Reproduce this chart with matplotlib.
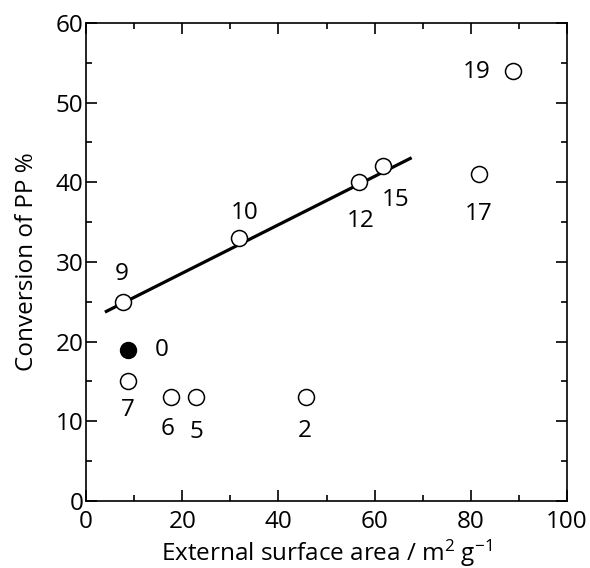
import numpy as np
import matplotlib
matplotlib.use("Agg")
import matplotlib.pyplot as plt
from matplotlib.ticker import MultipleLocator

plt.rcParams['font.family'] = ['Open Sans', 'DejaVu Sans']
plt.rcParams['mathtext.fontset'] = 'custom'
plt.rcParams['mathtext.rm'] = 'Open Sans'
plt.rcParams['mathtext.it'] = 'Open Sans'

# open circles: sample labels, surface area, conversion
labels = ['9', '7', '6', '5', '2', '10', '12', '15', '17', '19']
area = [7.7, 8.7, 17.7, 22.9, 45.7, 31.8, 56.8, 61.7, 81.7, 88.8]
conv = [25, 15, 13, 13, 13, 33, 40, 42, 41, 54]
# label positions
lab_x = [7.3, 8.7, 17.0, 22.9, 45.5, 33.0, 57.2, 64.4, 81.6, 81.3]
lab_y = [28.5, 11.4, 9.0, 8.7, 8.8, 36.1, 35.2, 37.8, 36.0, 53.8]

# filled point (sample 0)
ref_x = [8.7]
ref_y = [19]
ref_lab = (15.8, 19)

# trend line
fit_x = [4.2, 67.4]
fit_y = [23.8, 43.0]

fs = 17.5

fig = plt.figure(figsize=(5.9, 5.68), dpi=100)
ax = fig.add_axes([0.146, 0.118, 0.815, 0.8415])

ax.plot(fit_x, fit_y, color='black', lw=2.3, zorder=2)
ax.plot(area, conv, 'o', ms=11.5, mfc='white', mec='black', mew=1.1, zorder=3)
ax.plot(ref_x, ref_y, 'o', ms=11.5, mfc='black', mec='black', zorder=3)

for t, x, y in zip(labels, lab_x, lab_y):
    ax.text(x, y, t, ha='center', va='center', fontsize=fs)
ax.text(ref_lab[0], ref_lab[1], '0', ha='center', va='center', fontsize=fs)

ax.set_xlim(0, 100)
ax.set_ylim(0, 60)
ax.xaxis.set_major_locator(MultipleLocator(20))
ax.xaxis.set_minor_locator(MultipleLocator(10))
ax.yaxis.set_major_locator(MultipleLocator(10))
ax.yaxis.set_minor_locator(MultipleLocator(5))
ax.tick_params(which='both', direction='in', top=True, right=True, labelsize=fs, width=1.2)
ax.tick_params(axis='x', pad=6.5)
ax.tick_params(axis='y', pad=2)
ax.tick_params(which='major', length=8)
ax.tick_params(which='minor', length=4.5)
for s in ax.spines.values():
    s.set_linewidth(1.2)

ax.set_xlabel('External surface area / m$^{2}$ g$^{-1}$', fontsize=fs, labelpad=3)
ax.set_ylabel('Conversion of PP %', fontsize=fs, labelpad=12)

fig.savefig('out.png', dpi=100)
